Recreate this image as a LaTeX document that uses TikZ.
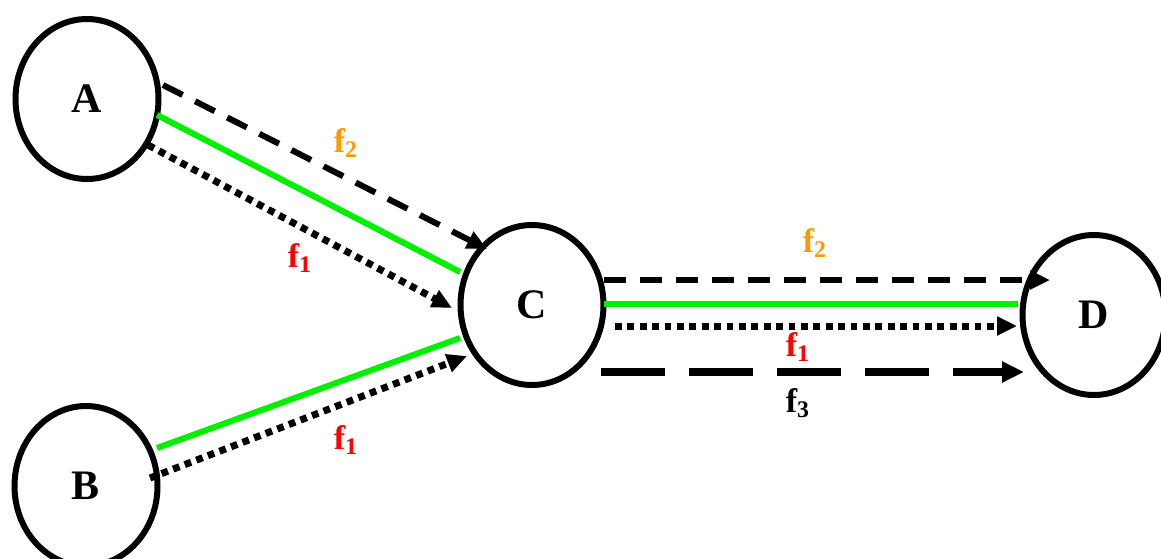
\documentclass[tikz,border=0pt]{standalone}
\usepackage{fontspec}
\setmainfont{Liberation Serif}
\usetikzlibrary{arrows.meta,shapes.geometric}
\definecolor{flowgreen}{RGB}{0,240,0}
\definecolor{flowred}{RGB}{255,0,0}
\definecolor{floworange}{RGB}{255,153,0}
\tikzset{
  x=0.5pt, y=-0.5pt,
  router/.style={draw=black, line width=3pt, ellipse, minimum width=71.5pt, minimum height=80pt, inner sep=0pt, font=\fontsize{21}{24}\selectfont\bfseries},
  tip/.style={-{Triangle[length=10pt,width=9pt]}},
  pathgreen/.style={draw=flowgreen, line width=3pt},
  flowdash/.style={draw=black, line width=3pt, dash pattern=on 11pt off 7pt, tip},
  flowdot/.style={draw=black, line width=3.5pt, dash pattern=on 3.4pt off 2.8pt, tip},
  flowlong/.style={draw=black, line width=4pt, dash pattern=on 32pt off 12pt, -{Triangle[length=11pt,width=10pt]}},
  lbl/.style={font=\fontsize{17}{20}\selectfont\bfseries, inner sep=0pt},
}
\begin{document}
\begin{tikzpicture}
\useasboundingbox (0,0) rectangle (1161,558);
% routers
\node[router] (A) at (87,99) {A};
\node[router] (B) at (86,486) {B};
\node[router] (C) at (532,305) {C};
\node[router] (D) at (1094,315) {D};
% connector end points
\coordinate (a1) at (163,85);
\coordinate (a2) at (157,115);
\coordinate (a3) at (148,145);
\coordinate (c1) at (487,249);
\coordinate (c2) at (460,272);
\coordinate (c3) at (452,308);
\coordinate (b2) at (157,448);
\coordinate (b3) at (150,478);
\coordinate (c4) at (460,338);
\coordinate (c5) at (467,356);
\coordinate (c6) at (604,280);
\coordinate (c7) at (604,304);
\coordinate (c8) at (615,326);
\coordinate (c9) at (601,372);
\coordinate (d1) at (1050,280);
\coordinate (d2) at (1018,304);
\coordinate (d3) at (1017,326);
\coordinate (d4) at (1024,372);
% A to C
\draw[flowdash] (a1) -- (c1);
\draw[pathgreen] (a2) -- (c2);
\draw[flowdot] (a3) -- (c3);
% B to C
\draw[pathgreen] (b2) -- (c4);
\draw[flowdot] (b3) -- (c5);
% C to D
\draw[flowdash] (c6) -- (d1);
\draw[pathgreen] (c7) -- (d2);
\draw[flowdot] (c8) -- (d3);
\draw[flowlong] (c9) -- (d4);
% flow labels
\node[lbl, text=floworange] (l1) at (346,143) {f\textsubscript{2}};
\node[lbl, text=flowred] (l2) at (300,258) {f\textsubscript{1}};
\node[lbl, text=flowred] (l3) at (346,440) {f\textsubscript{1}};
\node[lbl, text=floworange] (l4) at (815,243) {f\textsubscript{2}};
\node[lbl, text=flowred] (l5) at (798,347) {f\textsubscript{1}};
\node[lbl, text=black] (l6) at (798,403) {f\textsubscript{3}};
\end{tikzpicture}
\end{document}
